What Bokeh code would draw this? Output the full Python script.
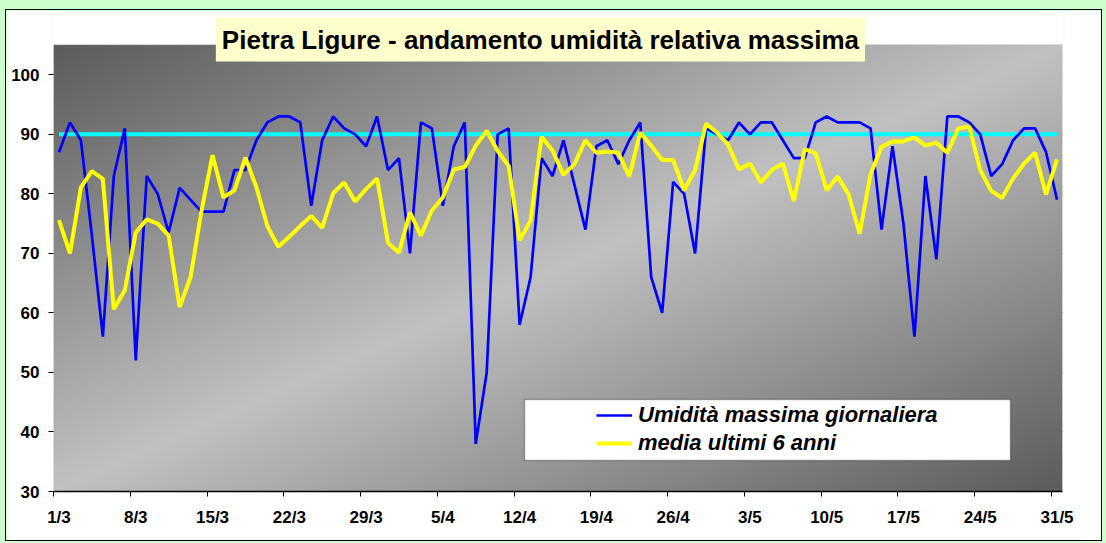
import numpy as np
from bokeh.plotting import figure
from bokeh.layouts import column
from bokeh.models import (FixedTicker, LinearAxis, Label, Legend, LegendItem,
                          BoxAnnotation, Range1d)
from bokeh.embed import file_html
from bokeh.resources import INLINE

# ---------------- data ----------------
tick_labels = ["1/3", "8/3", "15/3", "22/3", "29/3", "5/4", "12/4", "19/4",
               "26/4", "3/5", "10/5", "17/5", "24/5", "31/5"]

umidita_max = [87, 92, 89, 73, 56, 83, 91, 52, 83, 80, 73.5, 81, 79, 77, 77, 77,
               84, 84, 89, 92, 93, 93, 92, 78, 89, 93, 91, 90, 88, 93, 84, 86,
               70, 92, 91, 78, 88, 92, 38, 50, 90, 91, 58, 66, 86, 83, 89, 81.5,
               74, 88, 89, 85, 89, 92, 66, 60, 82, 80, 70, 91, 90, 89, 92, 90,
               92, 92, 89, 86, 86, 92, 93, 92, 92, 92, 91, 74, 88, 75, 56, 83,
               69, 93, 93, 92, 90, 83, 85, 89, 91, 91, 87, 79]

media_6_anni = [75.6, 70, 81.1, 83.8, 82.5, 60.6, 63.8, 73.5, 75.7, 75, 73, 61,
                66, 77.2, 86.5, 79.4, 80.6, 86.1, 81.1, 74.6, 71.1, 72.8, 74.6,
                76.3, 74.3, 80.1, 81.9, 78.7, 80.8, 82.6, 71.8, 70.1, 76.9, 73,
                77.2, 79.4, 84.1, 84.5, 88.1, 90.6, 87.2, 84.7, 72.2, 75.5, 89.6,
                87.3, 83.2, 85, 89, 86.9, 87.1, 86.9, 82.9, 90.3, 88.1, 85.7,
                85.7, 80.6, 84, 91.8, 90.3, 88.3, 84.1, 85.1, 81.9, 84, 85.1,
                78.8, 87.5, 86.8, 80.6, 82.9, 79.9, 73.3, 83.3, 87.9, 88.8, 88.8,
                89.5, 88.1, 88.6, 86.9, 91, 91.3, 84, 80.5, 79.3, 82.6, 85.1,
                86.9, 79.9, 85.8]

soglia = 90

n_days = len(umidita_max)
x = [i + 0.5 for i in range(n_days)]
tick_pos = [7 * k for k in range(len(tick_labels))]

FONT = "Liberation Sans"
Y_LOW, Y_HIGH, Y_TOP = 30, 105, 110.13   # Y_TOP leaves white room for the title

p = figure(width=1095, height=530, output_backend="svg", toolbar_location=None,
           x_range=Range1d(0, n_days), y_range=Range1d(Y_LOW, Y_TOP),
           min_border_left=47, min_border_right=39, min_border_top=4,
           min_border_bottom=49, border_fill_color="white",
           background_fill_color="white", outline_line_color=None)
p.margin = (10, 5, 3, 6)
p.styles = {"outline": "1px solid black"}

# gradient background of the plot area (style only)
ny, nx = 224, 252
U, V = np.meshgrid(np.linspace(0, 1, nx), np.linspace(0, 1, ny))
t = (U + (1 - V)) / 2
dark, light = 0x5C, 0xC1
shade = (dark + (light - dark) * (1 - np.abs(2 * t - 1))).astype(np.uint8)
img = np.empty((ny, nx), dtype=np.uint32)
view = img.view(dtype=np.uint8).reshape((ny, nx, 4))
view[..., 0] = shade
view[..., 1] = shade
view[..., 2] = shade
view[..., 3] = 255
p.image_rgba(image=[img], x=0, y=Y_LOW, dw=n_days, dh=Y_HIGH - Y_LOW)

# grid
p.xgrid.visible = False
p.ygrid.ticker = FixedTicker(ticks=[40, 50, 60, 70, 80, 90, 100])
p.ygrid.grid_line_color = "black"
p.ygrid.grid_line_alpha = 0.9

# y axis
p.yaxis.ticker = FixedTicker(ticks=[30, 40, 50, 60, 70, 80, 90, 100])
p.yaxis.axis_line_color = None
p.yaxis.major_tick_in = 0
p.yaxis.major_tick_out = 5
p.yaxis.major_tick_line_color = "black"
p.yaxis.minor_tick_line_color = None
p.yaxis.major_label_standoff = 9
p.yaxis.major_label_text_font = FONT
p.yaxis.major_label_text_font_style = "bold"
p.yaxis.major_label_text_font_size = "17px"
p.yaxis.major_label_text_color = "black"

# x axis: tick marks at slot boundaries (no labels drawn)
p.xaxis.ticker = FixedTicker(ticks=tick_pos)
p.xaxis.axis_line_color = "black"
p.xaxis.axis_line_width = 1.5
p.xaxis.major_tick_in = 0
p.xaxis.major_tick_out = 5
p.xaxis.major_tick_line_color = "black"
p.xaxis.minor_tick_line_color = None
p.xaxis.major_label_text_color = None
p.xaxis.major_label_text_alpha = 0
p.xaxis.major_label_text_font_size = "1px"
p.xaxis.major_label_standoff = 0

# second x axis carrying the labels at slot centres
ax2 = LinearAxis(ticker=FixedTicker(ticks=[tp + 0.5 for tp in tick_pos]),
                 major_label_overrides={tp + 0.5: lab for tp, lab in zip(tick_pos, tick_labels)},
                 axis_line_color=None, major_tick_line_color=None,
                 minor_tick_line_color=None, major_label_standoff=5,
                 major_label_text_font=FONT, major_label_text_font_style="bold",
                 major_label_text_font_size="17px", major_label_text_color="black")
p.add_layout(ax2, "below")

# gray border of the plot area
p.add_layout(BoxAnnotation(left=0, right=n_days, bottom=Y_LOW, top=Y_HIGH,
                           fill_alpha=0, line_color="#808080", line_width=2,
                           level="underlay"))

# series
p.line(x, [soglia] * n_days, line_color="#00FFFF", line_width=4)
r_blue = p.line(x, umidita_max, line_color="#0000FF", line_width=2.7)
r_yel = p.line(x, media_6_anni, line_color="#FFFF00", line_width=4)

# legend box
p.add_layout(BoxAnnotation(left=42.95, right=87.26, bottom=35.21, top=45.45,
                           fill_color="white", fill_alpha=1,
                           line_color="black", line_width=1.5))
legend = Legend(items=[LegendItem(label="Umidità massima giornaliera", renderers=[r_blue]),
                       LegendItem(label="media ultimi 6 anni", renderers=[r_yel])],
                location=(543, 34), background_fill_alpha=0, border_line_color=None,
                padding=0, spacing=0, margin=0, glyph_width=36, glyph_height=28,
                label_height=28, label_standoff=6, label_text_font=FONT,
                label_text_font_style="bold italic", label_text_font_size="22px",
                label_text_color="black")
p.add_layout(legend)

# title
p.add_layout(Label(x=44.4, y=105.93, text="Pietra Ligure - andamento umidità relativa massima",
                   text_align="center", text_baseline="middle", text_font=FONT,
                   text_font_style="bold", text_font_size="26px", text_color="black",
                   background_fill_color="#FFFFCC",
                   padding=dict(left=6, right=6, top=7, bottom=7)))

layout = column(p, styles={"background-color": "#CCFFCC"})

open("out.html", "w").write(file_html(layout, INLINE))
